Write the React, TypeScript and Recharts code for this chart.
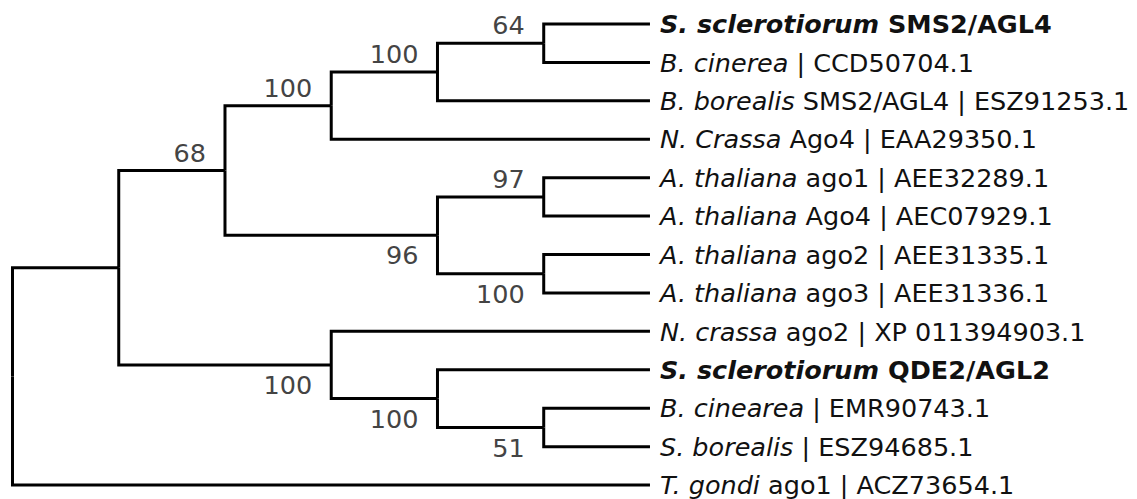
import { ComposedChart, Line, Scatter, XAxis, YAxis } from 'recharts'

// leaves, top to bottom
const leafSpecies = [
  'S. sclerotiorum',
  'B. cinerea',
  'B. borealis',
  'N. Crassa',
  'A. thaliana',
  'A. thaliana',
  'A. thaliana',
  'A. thaliana',
  'N. crassa',
  'S. sclerotiorum',
  'B. cinearea',
  'S. borealis',
  'T. gondi',
]
const leafRest = [
  'SMS2/AGL4',
  '| CCD50704.1',
  'SMS2/AGL4 | ESZ91253.1',
  'Ago4 | EAA29350.1',
  'ago1 | AEE32289.1',
  'Ago4 | AEC07929.1',
  'ago2 | AEE31335.1',
  'ago3 | AEE31336.1',
  'ago2 | XP 011394903.1',
  'QDE2/AGL2',
  '| EMR90743.1',
  '| ESZ94685.1',
  'ago1 | ACZ73654.1',
]
const leafBold = [true, false, false, false, false, false, false, false, false, true, false, false, false]

// internal nodes (cladogram depth, children, bootstrap support)
const nodeNames = ['root', 'A', 'B', 'C', 'D', 'E', 'F', 'G', 'H', 'I', 'J', 'K']
const nodeDepths = [0, 1, 2, 3, 3, 4, 4, 5, 5, 5, 4, 5]
const nodeChildren = [
  ['A', 'L12'],
  ['B', 'C'],
  ['D', 'E'],
  ['L8', 'J'],
  ['F', 'L3'],
  ['H', 'I'],
  ['G', 'L2'],
  ['L0', 'L1'],
  ['L4', 'L5'],
  ['L6', 'L7'],
  ['L9', 'K'],
  ['L10', 'L11'],
]
const nodeSupport = [null, null, 68, 100, 100, 96, 100, 64, 97, 100, 100, 51]

const LEAF_DEPTH = 6
const FONT = '"DejaVu Sans", sans-serif'
const FONT_SIZE = 25.5

type Pos = { x: number; y: number }

function layout() {
  const pos: Record<string, Pos> = {}
  leafSpecies.forEach((_, i) => {
    pos['L' + i] = { x: LEAF_DEPTH, y: i }
  })
  const place = (id: string): Pos => {
    if (pos[id]) return pos[id]
    const k = nodeNames.indexOf(id)
    const ys = nodeChildren[k].map((c) => place(c).y)
    pos[id] = { x: nodeDepths[k], y: (Math.min(...ys) + Math.max(...ys)) / 2 }
    return pos[id]
  }
  place('root')
  return pos
}

const pos = layout()

const edges: Pos[][] = []
nodeNames.forEach((id, k) => {
  const p = pos[id]
  nodeChildren[k].forEach((c) => {
    const q = pos[c]
    edges.push([
      { x: p.x, y: p.y },
      { x: p.x, y: q.y },
      { x: q.x, y: q.y },
    ])
  })
})

const leafPoints = leafSpecies.map((s, i) => ({
  x: LEAF_DEPTH,
  y: i,
  species: s,
  rest: leafRest[i],
  bold: leafBold[i],
}))

const supportPoints = nodeNames
  .map((id, k) => {
    if (nodeSupport[k] == null) return null
    const parent = nodeChildren.findIndex((ch) => ch.includes(id))
    const above = nodeChildren[parent][0] === id
    return { x: pos[id].x, y: pos[id].y, value: nodeSupport[k], above }
  })
  .filter(Boolean) as { x: number; y: number; value: number; above: boolean }[]

// eslint-disable-next-line @typescript-eslint/no-explicit-any
const LeafLabel = (props: any) => {
  const { cx, cy, payload } = props
  return (
    <text
      x={cx + 10}
      y={cy}
      dy="0.36em"
      fontFamily={FONT}
      fontSize={FONT_SIZE}
      fill="#111"
      fontWeight={payload.bold ? 'bold' : 'normal'}
    >
      <tspan fontStyle="italic">{payload.species}</tspan>
      <tspan> {payload.rest}</tspan>
    </text>
  )
}

// eslint-disable-next-line @typescript-eslint/no-explicit-any
const SupportLabel = (props: any) => {
  const { cx, cy, payload } = props
  return (
    <text
      x={cx - 19}
      y={payload.above ? cy - 18 : cy + 20}
      dy="0.36em"
      textAnchor="end"
      fontFamily={FONT}
      fontSize={FONT_SIZE}
      fill="#444"
    >
      {payload.value}
    </text>
  )
}

export default function App() {
  return (
    <div style={{ position: 'absolute', left: 0, top: 0, width: 1137, height: 499, background: '#fff' }}>
      <ComposedChart width={1137} height={499} margin={{ top: 0, right: 0, bottom: 0, left: 0 }}>
        <XAxis type="number" dataKey="x" domain={[-0.1176, 10.584]} hide allowDataOverflow />
        <YAxis type="number" dataKey="y" domain={[-0.6247, 12.363]} reversed hide allowDataOverflow />
        {edges.map((e, i) => (
          <Line
            key={i}
            data={e}
            dataKey="y"
            type="linear"
            stroke="#000"
            strokeWidth={3}
            strokeLinejoin="miter"
            dot={false}
            activeDot={false}
            isAnimationActive={false}
          />
        ))}
        <Scatter data={leafPoints} shape={LeafLabel} isAnimationActive={false} />
        <Scatter data={supportPoints} shape={SupportLabel} isAnimationActive={false} />
      </ComposedChart>
    </div>
  )
}
